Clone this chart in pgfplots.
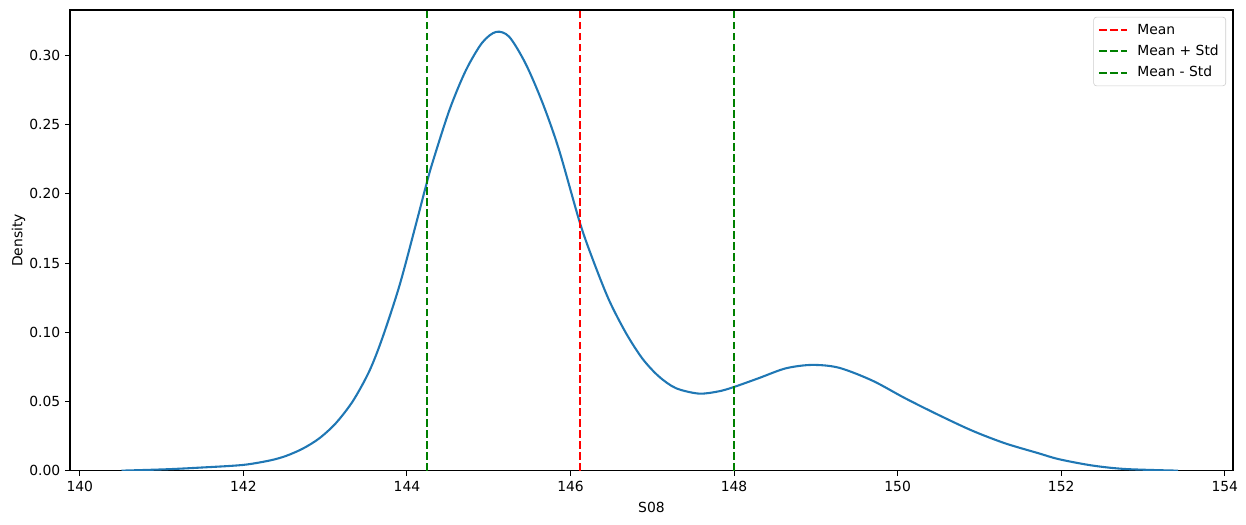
\documentclass[border=0pt]{standalone}
\usepackage{fontspec}
\setmainfont{DejaVu Sans}
\usepackage{pgfplots}
\pgfplotsset{compat=1.18}
\usetikzlibrary{calc}

\definecolor{kdeblue}{HTML}{1F77B4}
\definecolor{mplgreen}{rgb}{0,0.5,0}
\definecolor{mplred}{rgb}{1,0,0}

\pgfplotstableread{
x y
140.51 0.0002
141.06 0.0012
141.47 0.0024
141.99 0.0043
142.32 0.0075
142.52 0.0108
142.73 0.0162
142.93 0.0236
143.13 0.0344
143.34 0.0505
143.54 0.0720
143.70 0.0960
143.91 0.1340
144.11 0.1780
144.23 0.2051
144.31 0.2220
144.52 0.2605
144.72 0.2890
144.92 0.3090
145.09 0.3168
145.25 0.3133
145.45 0.2940
145.66 0.2653
145.86 0.2316
146.11 0.1800
146.27 0.1530
146.47 0.1234
146.68 0.0993
146.88 0.0810
147.08 0.0682
147.29 0.0597
147.57 0.0558
147.81 0.0574
147.99 0.0604
148.30 0.0669
148.63 0.0740
148.95 0.0765
149.28 0.0745
149.69 0.0652
150.09 0.0525
150.50 0.0404
150.91 0.0291
151.31 0.0200
151.72 0.0128
151.97 0.0085
152.37 0.0040
152.78 0.0014
153.43 0.0002
}\kde

\begin{document}
\begin{tikzpicture}
\begin{axis}[
  scale only axis,
  width=837.4pt, height=331.9pt,
  xmin=139.88, xmax=154.10,
  ymin=0, ymax=0.3326,
  xtick={140,142,...,154},
  ytick={0,0.05,...,0.30},
  yticklabel style={/pgf/number format/.cd, fixed, fixed zerofill, precision=2},
  xticklabel style={yshift=-0.5pt},
  /pgf/number format/assume math mode=true,
  tick align=outside,
  major tick length=3.5pt,
  tick style={line width=0.8pt, black},
  axis line style={line width=0.8pt},
  xtick pos=bottom, ytick pos=left,
  font=\fontsize{10}{12}\selectfont,
  xlabel={S08}, ylabel={Density},
  xlabel style={yshift=-0.5pt},
  ylabel style={yshift=-4pt},
  legend style={at={(1,1)}, anchor=north east, xshift=-5pt, yshift=-5pt,
    draw=white!80!black, rounded corners=2pt, fill=white,
    font=\fontsize{10}{12}\selectfont, row sep=2.2pt, inner xsep=3pt, inner ysep=3pt},
  legend cell align=left,
  legend image code/.code={\draw[#1] (0pt,0pt) -- (20pt,0pt);},
]
\addplot[kdeblue, line width=1.5pt, smooth, forget plot] table[x=x, y=y] {\kde};
\addplot[mplred, line width=1.5pt, dash pattern=on 5.55pt off 2.4pt] coordinates {(146.12,0) (146.12,0.3326)};
\addlegendentry{\hspace{5pt}Mean}
\addplot[mplgreen, line width=1.5pt, dash pattern=on 5.55pt off 2.4pt] coordinates {(148.00,0) (148.00,0.3326)};
\addlegendentry{\hspace{5pt}Mean + Std}
\addplot[mplgreen, line width=1.5pt, dash pattern=on 5.55pt off 2.4pt] coordinates {(144.24,0) (144.24,0.3326)};
\addlegendentry{\hspace{5pt}Mean - Std}
\end{axis}
\pgfresetboundingbox
\path ($(current axis.south west)+(-50.4pt,-38.9pt)$) rectangle ($(current axis.north east)+(9.4pt,7.2pt)$);
\end{tikzpicture}
\end{document}
